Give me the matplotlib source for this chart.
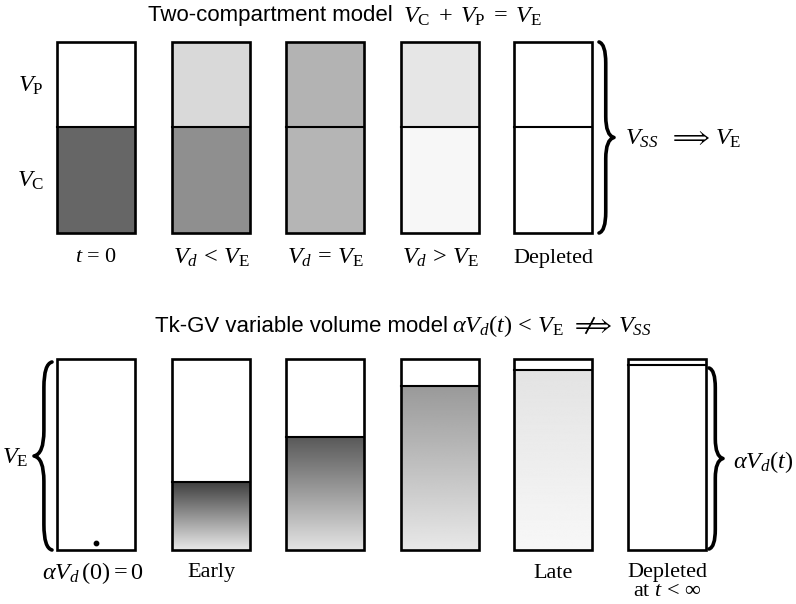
import numpy as np
import matplotlib
matplotlib.use("Agg")
import matplotlib.pyplot as plt
from matplotlib.patches import Rectangle, PathPatch
from matplotlib.path import Path

plt.rcParams["mathtext.fontset"] = "custom"
plt.rcParams["mathtext.rm"] = "Liberation Serif"
plt.rcParams["mathtext.it"] = "Liberation Serif:italic"
plt.rcParams["mathtext.fallback"] = "stix"

SERIF = "Liberation Serif"
SANS = "Liberation Sans"

# --- data -------------------------------------------------------------
# two-compartment model: gray level of the peripheral (upper) and central (lower) part
top_labels = [r"$t$ = 0", r"$V_d\,<\,V_{\mathrm{E}}$", r"$V_d\,=\,V_{\mathrm{E}}$",
              r"$V_d\,>\,V_{\mathrm{E}}$", "Depleted"]
top_upper_gray = [1.00, 0.85, 0.70, 0.90, 1.00]
top_lower_gray = [0.40, 0.56, 0.71, 0.97, 1.00]

# Tk-GV model: filled fraction of V_E and gradient gray (top -> bottom)
bottom_labels = [r"$\alpha V_d\,(0) = 0$", "Early", "", "", "Late", "Depleted\nat $t$ < $\\infty$"]
bottom_fill = [0.0, 0.356, 0.59, 0.86, 0.94, 0.97]
bottom_grad_top = [1.00, 0.25, 0.35, 0.60, 0.89, 1.00]
bottom_grad_bot = [1.00, 0.91, 0.89, 0.91, 0.97, 1.00]

# --- layout (pixels) ---------------------------------------------------
W, H = 796, 604
box_x = [57, 172, 286, 401, 514, 628]
box_w = 78
top_y0, top_y1, top_mid = 42, 233, 127
bot_y0, bot_y1 = 359, 550
LW = 1.9
FS = 16
FSM = 17.5

fig = plt.figure(figsize=(W / 100, H / 100), dpi=100)
ax = fig.add_axes([0, 0, 1, 1])


def brace(ax, x, y0, y1, w, side=1, lw=2.6):
    ym = (y0 + y1) / 2
    xs = x + side * w * 0.45
    xt = x + side * w
    r = w * 1.4
    verts = [(x, y0), (xs, y0 + 2), (xs, y0 + r),
             (xs, ym - r), (xs, ym - 2), (xt, ym),
             (xs, ym + 2), (xs, ym + r),
             (xs, y1 - r), (xs, y1 - 2), (x, y1)]
    codes = [Path.MOVETO, Path.CURVE3, Path.CURVE3,
             Path.LINETO, Path.CURVE3, Path.CURVE3,
             Path.CURVE3, Path.CURVE3,
             Path.LINETO, Path.CURVE3, Path.CURVE3]
    ax.add_patch(PathPatch(Path(verts, codes), fill=False, lw=lw,
                           capstyle="round", joinstyle="round", color="black"))


# two-compartment row
for i, lab in enumerate(top_labels):
    x = box_x[i]
    g_up, g_lo = top_upper_gray[i], top_lower_gray[i]
    ax.add_patch(Rectangle((x, top_y0), box_w, top_mid - top_y0,
                           facecolor=str(g_up), edgecolor="none"))
    ax.add_patch(Rectangle((x, top_mid), box_w, top_y1 - top_mid,
                           facecolor=str(g_lo), edgecolor="none"))
    ax.plot([x, x + box_w], [top_mid, top_mid], color="black", lw=LW - 0.4)
    ax.add_patch(Rectangle((x, top_y0), box_w, top_y1 - top_y0,
                           facecolor="none", edgecolor="black", lw=LW))
    ax.text(x + box_w / 2, 258, lab, ha="center", va="center",
            fontsize=FS if i in (0, 4) else FSM, family=SERIF)

ax.text(31, 86, r"$V_{\mathrm{P}}$", ha="center", va="center", fontsize=FSM, family=SERIF)
ax.text(31, 181, r"$V_{\mathrm{C}}$", ha="center", va="center", fontsize=FSM, family=SERIF)

brace(ax, 599, top_y0, top_y1, 15, side=1)
ax.text(625, 139, r"$V_{SS}$", ha="left", va="center", fontsize=FSM, family=SERIF)
ax.text(690, 137, r"$\Longrightarrow$", ha="center", va="center", fontsize=17)
ax.text(715, 139, r"$V_{\mathrm{E}}$", ha="left", va="center", fontsize=FSM, family=SERIF)

ax.text(393, 16, "Two-compartment model", ha="right", va="center",
        fontsize=FS, family=SANS)
ax.text(403, 17, r"$V_{\mathrm{C}}\;+\;V_{\mathrm{P}}\;=\;V_{\mathrm{E}}$",
        ha="left", va="center", fontsize=FSM, family=SERIF)

# Tk-GV row
box_h = bot_y1 - bot_y0
for i, lab in enumerate(bottom_labels):
    x = box_x[i]
    level = bot_y1 - bottom_fill[i] * box_h
    if bottom_fill[i] > 0:
        grad = np.linspace(bottom_grad_top[i], bottom_grad_bot[i], 256)[:, None]
        ax.imshow(grad, cmap="gray", vmin=0, vmax=1, aspect="auto",
                  extent=(x, x + box_w, bot_y1, level), origin="upper",
                  interpolation="bilinear", zorder=1)
        ax.plot([x, x + box_w], [level, level], color="black", lw=LW - 0.4, zorder=2)
    ax.add_patch(Rectangle((x, bot_y0), box_w, box_h, facecolor="none",
                           edgecolor="black", lw=LW, zorder=3))
    if lab:
        ax.text(x + box_w / 2 - (3 if i == 0 else 0), 573 if "\n" not in lab else 582,
                lab, ha="center", va="center", fontsize=FSM if i == 0 else FS,
                family=SERIF, linespacing=0.95)

ax.scatter([96], [543], s=10, color="black", zorder=4)

brace(ax, 52, 362, bot_y1, 18, side=-1)
ax.text(15, 458, r"$V_{\mathrm{E}}$", ha="center", va="center", fontsize=FSM, family=SERIF)

brace(ax, 709, 368, 549, 14, side=1)
ax.text(733, 462, r"$\alpha V_d(t)$", ha="left", va="center", fontsize=FSM, family=SERIF)

ax.text(448, 326, "Tk-GV variable volume model", ha="right", va="center",
        fontsize=FS, family=SANS)
ax.text(452, 326, r"$\alpha V_d(t)\,<\,V_{\mathrm{E}}$", ha="left", va="center",
        fontsize=FSM, family=SERIF)
ax.text(592, 325, r"$\Longrightarrow$", ha="center", va="center", fontsize=17)
ax.plot([586, 594], [333, 318], color="black", lw=1.3)
ax.text(618, 327, r"$V_{SS}$", ha="left", va="center", fontsize=FSM, family=SERIF)

ax.set_xlim(0, W)
ax.set_ylim(H, 0)
ax.axis("off")
fig.savefig("out.png", dpi=100, facecolor="white")
